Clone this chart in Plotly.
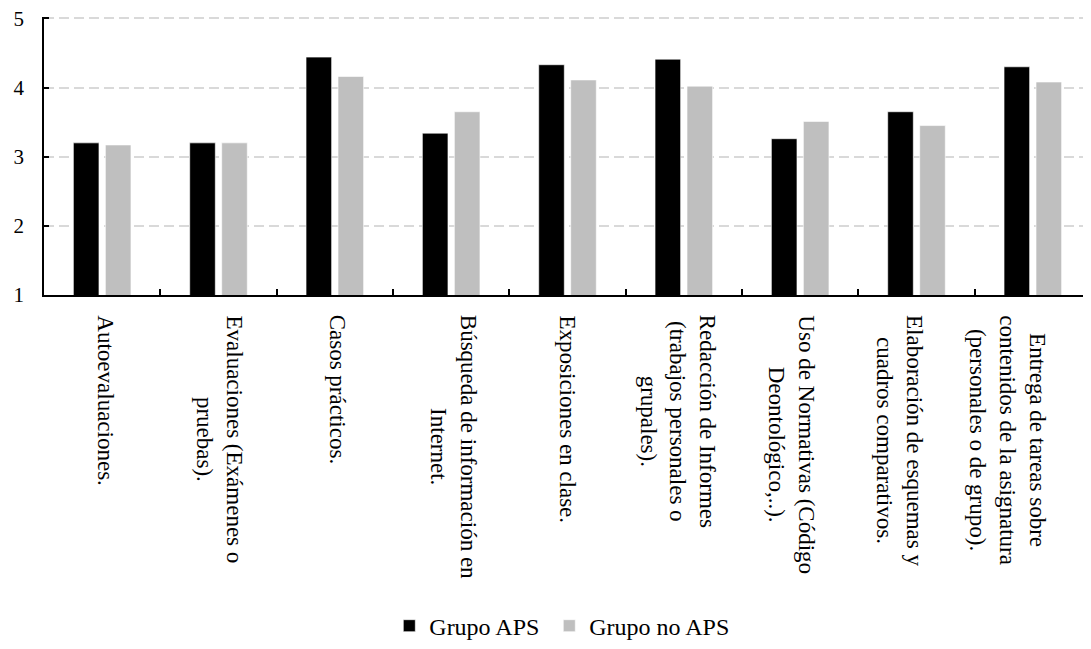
import plotly.graph_objects as go

categories = [
    "Autoevaluaciones.",
    "Evaluaciones (Exámenes o<br>pruebas).",
    "Casos prácticos.",
    "Búsqueda de información en<br>Internet.",
    "Exposiciones en clase.",
    "Redacción de Informes<br>(trabajos personales o<br>grupales).",
    "Uso de Normativas (Código<br>Deontológico,..).",
    "Elaboración de esquemas y<br>cuadros comparativos.",
    "Entrega de tareas sobre<br>contenidos de la asignatura<br>(personales o de grupo).",
]
aps = [3.20, 3.20, 4.44, 3.34, 4.33, 4.41, 3.26, 3.65, 4.30]
no_aps = [3.17, 3.20, 4.16, 3.65, 4.11, 4.02, 3.51, 3.45, 4.08]
series_names = ["Grupo APS", "Grupo no APS"]
y_ticks = [1, 2, 3, 4, 5]

FONT = "Liberation Serif"
label_xshift = [3, 1, 3, 3, 0, -6, -9, -17, -25]

fig = go.Figure()
fig.add_trace(go.Bar(x=categories, y=aps, name=series_names[0], legend="legend",
                     marker=dict(color="#000000", line=dict(color="#ffffff", width=0.6))))
fig.add_trace(go.Bar(x=categories, y=no_aps, name=series_names[1], legend="legend2",
                     marker=dict(color="#bfbfbf", line=dict(color="#ffffff", width=0.6))))

for i, c in enumerate(categories):
    fig.add_annotation(x=c, xref="x", y=0, yref="paper", text=c, showarrow=False,
                       textangle=90, xanchor="center", yanchor="top", align="center",
                       yshift=-18, xshift=label_xshift[i],
                       font=dict(family=FONT, size=23, color="#000000"))

legend_style = dict(orientation="h", xanchor="left", y=-1.191, yanchor="middle",
                    font=dict(family=FONT, size=24, color="#000000"), itemwidth=30,
                    bgcolor="rgba(0,0,0,0)")

# page body has an 8px margin, so the figure is 8px smaller and margins shifted
fig.update_layout(
    width=1083, height=641, autosize=False,
    margin=dict(l=36, r=0, t=9, b=349),
    plot_bgcolor="#ffffff", paper_bgcolor="#ffffff",
    barmode="group", bargap=0.45, bargroupgap=0.2,
    font=dict(family=FONT, size=20, color="#000000"),
    showlegend=True,
    legend=dict(x=0.3298, **legend_style),
    legend2=dict(x=0.4826, **legend_style),
)
fig.update_xaxes(type="category", showticklabels=False, showline=True, linecolor="#000000",
                 linewidth=1.5, ticks="inside", tickson="boundaries", ticklen=6,
                 tickcolor="#000000", tickwidth=1.5, showgrid=False, mirror=False)
fig.update_yaxes(range=[1, 5.02], tickvals=y_ticks, showline=True, linecolor="#000000",
                 linewidth=1.5, ticks="inside", ticklen=5, tickcolor="#000000", tickwidth=1.5,
                 showgrid=True, gridcolor="#d9d9d9", gridwidth=2, griddash="10px,5px",
                 zeroline=False, ticklabelstandoff=14, ticklabeloverflow="allow",
                 tickfont=dict(family=FONT, size=21, color="#000000"))

fig.write_html("out.html")
